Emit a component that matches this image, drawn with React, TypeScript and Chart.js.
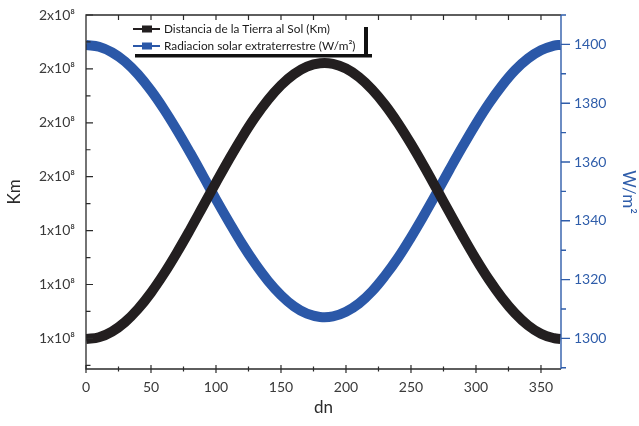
import { useEffect, useRef } from "react";
import { Chart, registerables } from "chart.js";
Chart.register(...registerables);

const days = [0, 10, 20, 30, 40, 50, 60, 70, 80, 90, 100, 110, 120, 130, 140, 150, 160, 170, 180, 190, 200, 210, 220, 230, 240, 250, 260, 270, 280, 290, 300, 310, 320, 330, 340, 350, 360, 365];

const distanceKm = [
  1.4699e8, 1.47021e8, 1.47126e8, 1.47302e8, 1.47545e8, 1.47848e8, 1.48201e8, 1.48594e8, 1.49014e8, 1.49451e8,
  1.4989e8, 1.5032e8, 1.50727e8, 1.51099e8, 1.51425e8, 1.51696e8, 1.51903e8, 1.52041e8, 1.52105e8, 1.52094e8,
  1.52007e8, 1.51848e8, 1.51621e8, 1.51333e8, 1.50992e8, 1.50608e8, 1.50193e8, 1.49759e8, 1.49319e8, 1.48886e8,
  1.48472e8, 1.4809e8, 1.47752e8, 1.47466e8, 1.47242e8, 1.47086e8, 1.47004e8, 1.4699e8,
];

const radiation = [
  1399.8, 1399.2, 1397.3, 1394.2, 1389.8, 1384.3, 1377.9, 1370.8, 1363.2, 1355.3,
  1347.3, 1339.6, 1332.2, 1325.5, 1319.6, 1314.7, 1310.9, 1308.4, 1307.3, 1307.5,
  1309.1, 1311.9, 1316.0, 1321.3, 1327.4, 1334.4, 1341.9, 1349.7, 1357.7, 1365.5,
  1373.0, 1379.9, 1386.0, 1391.2, 1395.2, 1398.0, 1399.6, 1399.8,
];

const xTicks = [0, 50, 100, 150, 200, 250, 300, 350];
const leftTicks = [1.47e8, 1.48e8, 1.49e8, 1.5e8, 1.51e8, 1.52e8, 1.53e8];
const leftTickLabels = ["1x10⁸", "1x10⁸", "1x10⁸", "2x10⁸", "2x10⁸", "2x10⁸", "2x10⁸"];
const rightTicks = [1300, 1320, 1340, 1360, 1380, 1400];

const seriesNames = ["Distancia de la Tierra al Sol (Km)", "Radiacion solar extraterrestre (W/m²)"];

const BLACK = "#231f20";
const BLUE = "#2b58a8";
const AXIS_BLUE = "#2f5daa";
const FONT = "Lato, 'Open Sans', sans-serif";

function mids(arr: number[], extraBefore = true, extraAfter = true) {
  const out: number[] = [];
  const step = arr[1] - arr[0];
  if (extraBefore) out.push(arr[0] - step / 2);
  for (let i = 0; i < arr.length - 1; i++) out.push((arr[i] + arr[i + 1]) / 2);
  if (extraAfter) out.push(arr[arr.length - 1] + step / 2);
  return out;
}

const framePlugin = {
  id: "frame",
  afterDatasetsDraw(chart: any) {
    const { ctx, chartArea, scales } = chart;
    const { left, right, top, bottom } = chartArea;
    const sx = scales.x, sy = scales.y, sy1 = scales.y1;
    ctx.save();

    // legend (drawn first so the top ticks stay visible above it)
    const lx = 130, ly = 21, lw = 234, lh = 33;
    ctx.fillStyle = "#ffffff";
    ctx.fillRect(lx, ly, lw, lh);
    ctx.fillStyle = "#111";
    ctx.fillRect(lx + 5, ly + lh, lw + 3, 3.5);
    ctx.fillRect(lx + lw, ly + 6, 4, lh - 3);
    const colors = [BLACK, BLUE];
    const rows = [29, 46];
    ctx.font = `11.8px ${FONT}`;
    ctx.textBaseline = "middle";
    ctx.textAlign = "left";
    rows.forEach((ry, i) => {
      ctx.strokeStyle = colors[i];
      ctx.lineWidth = 2;
      ctx.beginPath();
      ctx.moveTo(133, ry);
      ctx.lineTo(160, ry);
      ctx.stroke();
      ctx.fillStyle = colors[i];
      ctx.fillRect(142, ry - 3.5, 10, 7);
      ctx.fillStyle = "#1a1a1a";
      ctx.fillText(seriesNames[i], 164, ry + 0.5);
    });

    ctx.lineWidth = 1.3;
    ctx.strokeStyle = "#2a2a2a";
    ctx.beginPath();
    ctx.moveTo(right, top);
    ctx.lineTo(left, top);
    ctx.lineTo(left, bottom);
    ctx.lineTo(right, bottom);
    ctx.stroke();

    ctx.lineWidth = 1.2;
    ctx.beginPath();
    xTicks.forEach((v) => {
      const p = sx.getPixelForValue(v);
      ctx.moveTo(p, bottom - 4);
      ctx.lineTo(p, bottom + 4);
    });
    mids(xTicks, false, false).forEach((v) => {
      const p = sx.getPixelForValue(v);
      ctx.moveTo(p, bottom - 2.5);
      ctx.lineTo(p, bottom + 2.5);
    });
    [...xTicks, ...mids(xTicks, false, false)].forEach((v) => {
      const p = sx.getPixelForValue(v);
      if (p <= left + 1) return;
      ctx.moveTo(p, top);
      ctx.lineTo(p, top + 5);
    });
    leftTicks.forEach((v) => {
      const p = sy.getPixelForValue(v);
      ctx.moveTo(left, p);
      ctx.lineTo(left + 7, p);
    });
    mids(leftTicks).forEach((v) => {
      const p = sy.getPixelForValue(v);
      if (p < top || p > bottom) return;
      ctx.moveTo(left, p);
      ctx.lineTo(left + 4.5, p);
    });
    ctx.stroke();

    ctx.strokeStyle = AXIS_BLUE;
    ctx.lineWidth = 1.4;
    ctx.beginPath();
    ctx.moveTo(right, top);
    ctx.lineTo(right, bottom);
    rightTicks.forEach((v) => {
      const p = sy1.getPixelForValue(v);
      ctx.moveTo(right, p);
      ctx.lineTo(right + 9, p);
    });
    mids(rightTicks).forEach((v) => {
      const p = sy1.getPixelForValue(v);
      if (p < top || p > bottom + 1) return;
      ctx.moveTo(right, p);
      ctx.lineTo(right + 5, p);
    });
    ctx.stroke();
    ctx.restore();
  },
};

export default function App() {
  const ref = useRef<HTMLCanvasElement | null>(null);
  useEffect(() => {
    if (!ref.current) return;
    const chart = new Chart(ref.current, {
      type: "line",
      data: {
        datasets: [
          {
            label: seriesNames[0],
            data: days.map((d, i) => ({ x: d, y: distanceKm[i] })),
            borderColor: BLACK,
            borderWidth: 10,
            pointRadius: 0,
            tension: 0.4,
            yAxisID: "y",
          },
          {
            label: seriesNames[1],
            data: days.map((d, i) => ({ x: d, y: radiation[i] })),
            borderColor: BLUE,
            borderWidth: 10,
            pointRadius: 0,
            tension: 0.4,
            yAxisID: "y1",
          },
        ],
      },
      options: {
        responsive: false,
        animation: false,
        devicePixelRatio: 1,
        layout: { padding: { top: 15, left: 0, right: 0, bottom: 0 } },
        plugins: { legend: { display: false }, tooltip: { enabled: false } },
        scales: {
          x: {
            type: "linear",
            min: 0,
            max: 365.4,
            afterBuildTicks: (s: any) => {
              s.ticks = xTicks.map((v) => ({ value: v }));
            },
            afterFit: (s: any) => {
              s.height = 57;
            },
            grid: { display: false, drawTicks: true, tickLength: 10 },
            border: { display: false },
            ticks: { font: { family: FONT, size: 14 }, color: "#3a3a3a", padding: 0, maxRotation: 0, callback: (v: any) => String(v) },
            title: { display: true, text: "dn", font: { family: FONT, size: 17 }, color: "#2a2a2a", padding: { bottom: 8, top: 0 } },
          },
          y: {
            position: "left",
            min: 1.46432e8,
            max: 1.53e8,
            afterBuildTicks: (s: any) => {
              s.ticks = leftTicks.map((v) => ({ value: v }));
            },
            afterFit: (s: any) => {
              s.width = 86;
            },
            grid: { display: false, drawTicks: true, tickLength: 11 },
            border: { display: false },
            ticks: {
              font: { family: FONT, size: 14 },
              color: "#3a3a3a",
              padding: 0,
              callback: (_v: any, i: number) => leftTickLabels[i],
            },
            title: { display: true, text: "Km", font: { family: FONT, size: 17 }, color: "#2a2a2a", padding: { top: 4, bottom: 0 } },
          },
          y1: {
            position: "right",
            min: 1289.6,
            max: 1410,
            afterBuildTicks: (s: any) => {
              s.ticks = rightTicks.map((v) => ({ value: v }));
            },
            afterFit: (s: any) => {
              s.width = 78;
            },
            grid: { display: false, drawTicks: true, tickLength: 13 },
            border: { display: false },
            ticks: { font: { family: FONT, size: 14 }, color: AXIS_BLUE, padding: 0, callback: (v: any) => String(v) },
            title: { display: true, text: "W/m²", font: { family: FONT, size: 17 }, color: AXIS_BLUE, padding: { top: 0, bottom: 0 } },
          },
        },
      },
      plugins: [framePlugin],
    });
    return () => chart.destroy();
  }, []);
  return (
    <div style={{ position: "fixed", left: 0, top: 0, width: 639, height: 426, background: "#fff" }}>
      <canvas ref={ref} width={639} height={426} style={{ width: 639, height: 426, display: "block" }} />
    </div>
  );
}
